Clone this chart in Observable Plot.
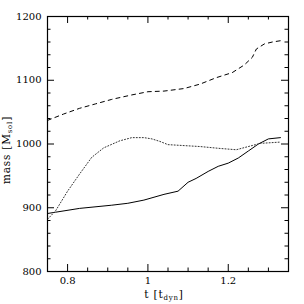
<!DOCTYPE html>
<html><head><meta charset="utf-8">
<script src="https://cdn.jsdelivr.net/npm/d3@7"></script>
<script src="https://cdn.jsdelivr.net/npm/@observablehq/plot@0.6"></script>
<style>body{margin:0;background:#fff} svg{display:block}</style>
</head><body><div id="chart"></div>
<script>
// Data
const tDash = [0.75, 0.79, 0.83, 0.87, 0.91, 0.96, 1.00, 1.04, 1.09, 1.13, 1.17, 1.21, 1.24, 1.26, 1.27, 1.29, 1.31, 1.33];
const mDash = [1037, 1047, 1056, 1063, 1070, 1077, 1082, 1083, 1087, 1094, 1104, 1112, 1124, 1136, 1149, 1157, 1160, 1162];
const tSolid = [0.75, 0.77, 0.83, 0.91, 0.95, 0.99, 1.04, 1.075, 1.10, 1.12, 1.15, 1.175, 1.20, 1.225, 1.25, 1.275, 1.30, 1.33];
const mSolid = [891, 893, 899, 904, 907, 912, 921, 926, 940, 946, 957, 965, 970, 978, 989, 1000, 1008, 1010];
const tDot = [0.75, 0.77, 0.80, 0.83, 0.86, 0.89, 0.93, 0.96, 0.99, 1.01, 1.03, 1.05, 1.13, 1.18, 1.22, 1.25, 1.28, 1.33];
const mDot = [882, 895, 926, 953, 979, 994, 1005, 1010, 1010, 1008, 1004, 999, 996, 993, 991, 996, 1001, 1003];

const xMajor = [0.8, 1, 1.2];
const xMinor = [0.85, 0.9, 0.95, 1.05, 1.1, 1.15, 1.25, 1.3];
const yMajor = [800, 900, 1000, 1100, 1200];
const yMinor = [820, 840, 860, 880, 920, 940, 960, 980, 1020, 1040, 1060, 1080, 1120, 1140, 1160, 1180];

const W = 304, H = 304, mL = 47, mR = 16, mT = 16, mB = 33;
const iw = W - mL - mR, ih = H - mT - mB;
const majLen = 7, minLen = 3.5;

const dash = tDash.map((t, i) => ({t, m: mDash[i]}));
const solid = tSolid.map((t, i) => ({t, m: mSolid[i]}));
const dot = tDot.map((t, i) => ({t, m: mDot[i]}));

const svg = Plot.plot({
  width: W, height: H,
  marginLeft: mL, marginRight: mR, marginTop: mT, marginBottom: mB,
  style: {fontFamily: "DejaVu Serif", fontSize: "10px", background: "white", color: "black"},
  x: {domain: [0.75, 1.35]},
  y: {domain: [800, 1200]},
  marks: [
    Plot.line(dash, {x: "t", y: "m", stroke: "black", strokeWidth: 1, strokeDasharray: "4,4", clip: true}),
    Plot.line(solid, {x: "t", y: "m", stroke: "black", strokeWidth: 1, clip: true}),
    Plot.line(dot, {x: "t", y: "m", stroke: "#333", strokeWidth: 1, strokeDasharray: "1,2", clip: true}),
    Plot.tickX(xMajor, {x: d => d, insetTop: ih - majLen, stroke: "black"}),
    Plot.tickX(xMajor, {x: d => d, insetBottom: ih - majLen, stroke: "black"}),
    Plot.tickX(xMinor, {x: d => d, insetTop: ih - minLen, stroke: "black"}),
    Plot.tickX(xMinor, {x: d => d, insetBottom: ih - minLen, stroke: "black"}),
    Plot.tickY(yMajor, {y: d => d, insetRight: iw - majLen, stroke: "black"}),
    Plot.tickY(yMajor, {y: d => d, insetLeft: iw - majLen, stroke: "black"}),
    Plot.tickY(yMinor, {y: d => d, insetRight: iw - minLen, stroke: "black"}),
    Plot.tickY(yMinor, {y: d => d, insetLeft: iw - minLen, stroke: "black"}),
    Plot.axisX(xMajor, {tickSize: 0, tickPadding: 5, tickFormat: d => String(d), label: null}),
    Plot.axisY(yMajor, {tickSize: 0, tickPadding: 6, tickFormat: d => String(d), label: null}),
    Plot.frame({stroke: "black", strokeWidth: 1.2})
  ]
});

const s = d3.select(svg);
const xl = s.append("text")
  .attr("x", 164).attr("y", 298)
  .attr("text-anchor", "middle")
  .attr("letter-spacing", 0.8)
  .attr("font-family", "DejaVu Serif").attr("font-size", 10.5).attr("fill", "black");
xl.append("tspan").text("t [t");
xl.append("tspan").attr("font-size", 7).attr("dy", 2).text("dyn");
xl.append("tspan").attr("dy", -2).text("]");

const yl = s.append("text")
  .attr("transform", `translate(10,150) rotate(-90)`)
  .attr("text-anchor", "middle")
  .attr("letter-spacing", 0.8)
  .attr("font-family", "DejaVu Serif").attr("font-size", 10.5).attr("fill", "black");
yl.append("tspan").text("mass [M");
yl.append("tspan").attr("font-size", 7).attr("dy", 2).text("sol");
yl.append("tspan").attr("dy", -2).text("]");

document.getElementById("chart").appendChild(svg);
</script>
</body></html>
